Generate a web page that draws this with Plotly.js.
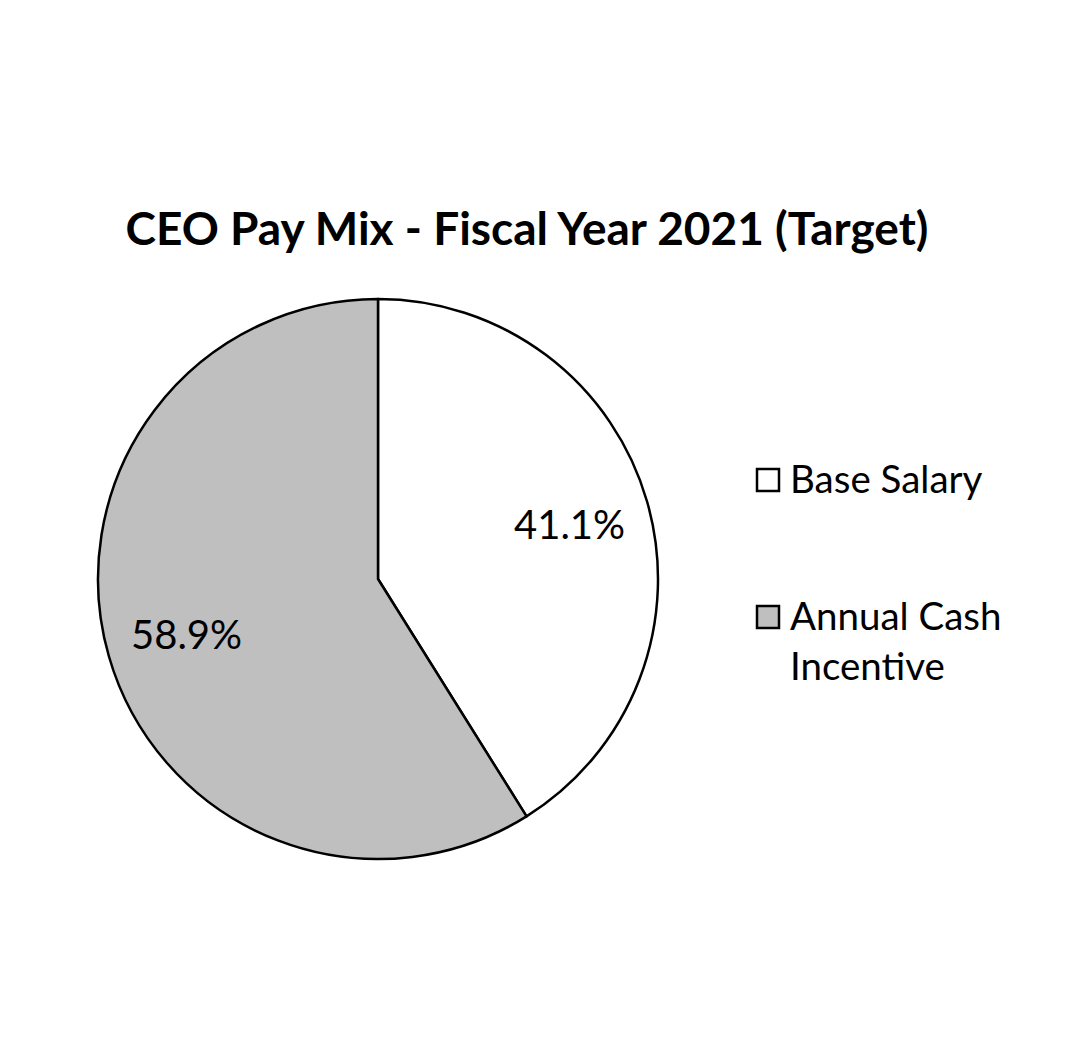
<!DOCTYPE html>
<html>
<head>
<meta charset="utf-8">
<script src="https://cdn.plot.ly/plotly-3.0.1.min.js"></script>
<style>html,body{margin:0;padding:0;background:#fff;}</style>
</head>
<body>
<div id="chart" style="width:1069px;height:1059px;"></div>
<script>
const categories = ["Base Salary", "Annual Cash Incentive"];
const legendLabels = ["Base Salary", "Annual Cash<br>Incentive"];
const values = [41.1, 58.9];
const colors = ["#ffffff", "#bfbfbf"];

const FONT = "Lato, 'Liberation Sans', sans-serif";

// pie geometry (pixels)
const W = 1069, H = 1059;
const cx = 378, cy = 579, R = 280;

const trace = {
  type: "pie",
  labels: categories,
  values: values,
  sort: false,
  direction: "clockwise",
  rotation: 0,
  marker: { colors: colors, line: { color: "#000000", width: 2.5 } },
  textinfo: "none",
  hoverinfo: "label+percent",
  showlegend: false,
  domain: { x: [(cx - R)/W, (cx + R)/W], y: [1 - (cy + R)/H, 1 - (cy - R)/H] }
};

const annotations = [];
const shapes = [];

// data labels at mid-angle of each slice (clockwise from 12 o'clock)
const total = values.reduce((a, b) => a + b, 0);
let cum = 0;
values.forEach((v, i) => {
  const mid = (cum + v / 2) / total * 2 * Math.PI;
  cum += v;
  const r = 0.71 * R;
  const px = cx + r * Math.sin(mid);
  const py = cy - r * Math.cos(mid);
  annotations.push({
    xref: "paper", yref: "paper",
    x: px / W, y: 1 - py / H,
    xanchor: "center", yanchor: "middle",
    text: v.toFixed(1) + "%", showarrow: false,
    font: { family: FONT, size: 40, color: "#000000" }
  });
});

const legendY = [480, 617];
legendLabels.forEach((lab, i) => {
  annotations.push({
    xref: "paper", yref: "paper",
    x: 788/W, y: 1 - (legendY[i] - 27)/H,
    xanchor: "left", yanchor: "top", align: "left",
    text: lab, showarrow: false,
    font: { family: FONT, size: 38.5, color: "#000000" }
  });
  shapes.push({
    type: "rect", xref: "paper", yref: "paper",
    x0: 757/W, x1: 779/W,
    y0: 1 - (legendY[i] + 11)/H, y1: 1 - (legendY[i] - 11)/H,
    fillcolor: colors[i], line: { color: "#000000", width: 2.5 }
  });
});

const layout = {
  width: W, height: H,
  margin: { l: 0, r: 0, t: 0, b: 0 },
  paper_bgcolor: "#ffffff",
  title: {
    text: "<b>CEO Pay Mix - Fiscal Year 2021 (Target)</b>",
    font: { family: FONT, size: 46, color: "#000000" },
    x: 527/W, xanchor: "center",
    y: 1 - 229/H, yanchor: "middle"
  },
  showlegend: false,
  annotations: annotations,
  shapes: shapes
};

Plotly.newPlot("chart", [trace], layout, { displayModeBar: false, staticPlot: true });
</script>
</body>
</html>
